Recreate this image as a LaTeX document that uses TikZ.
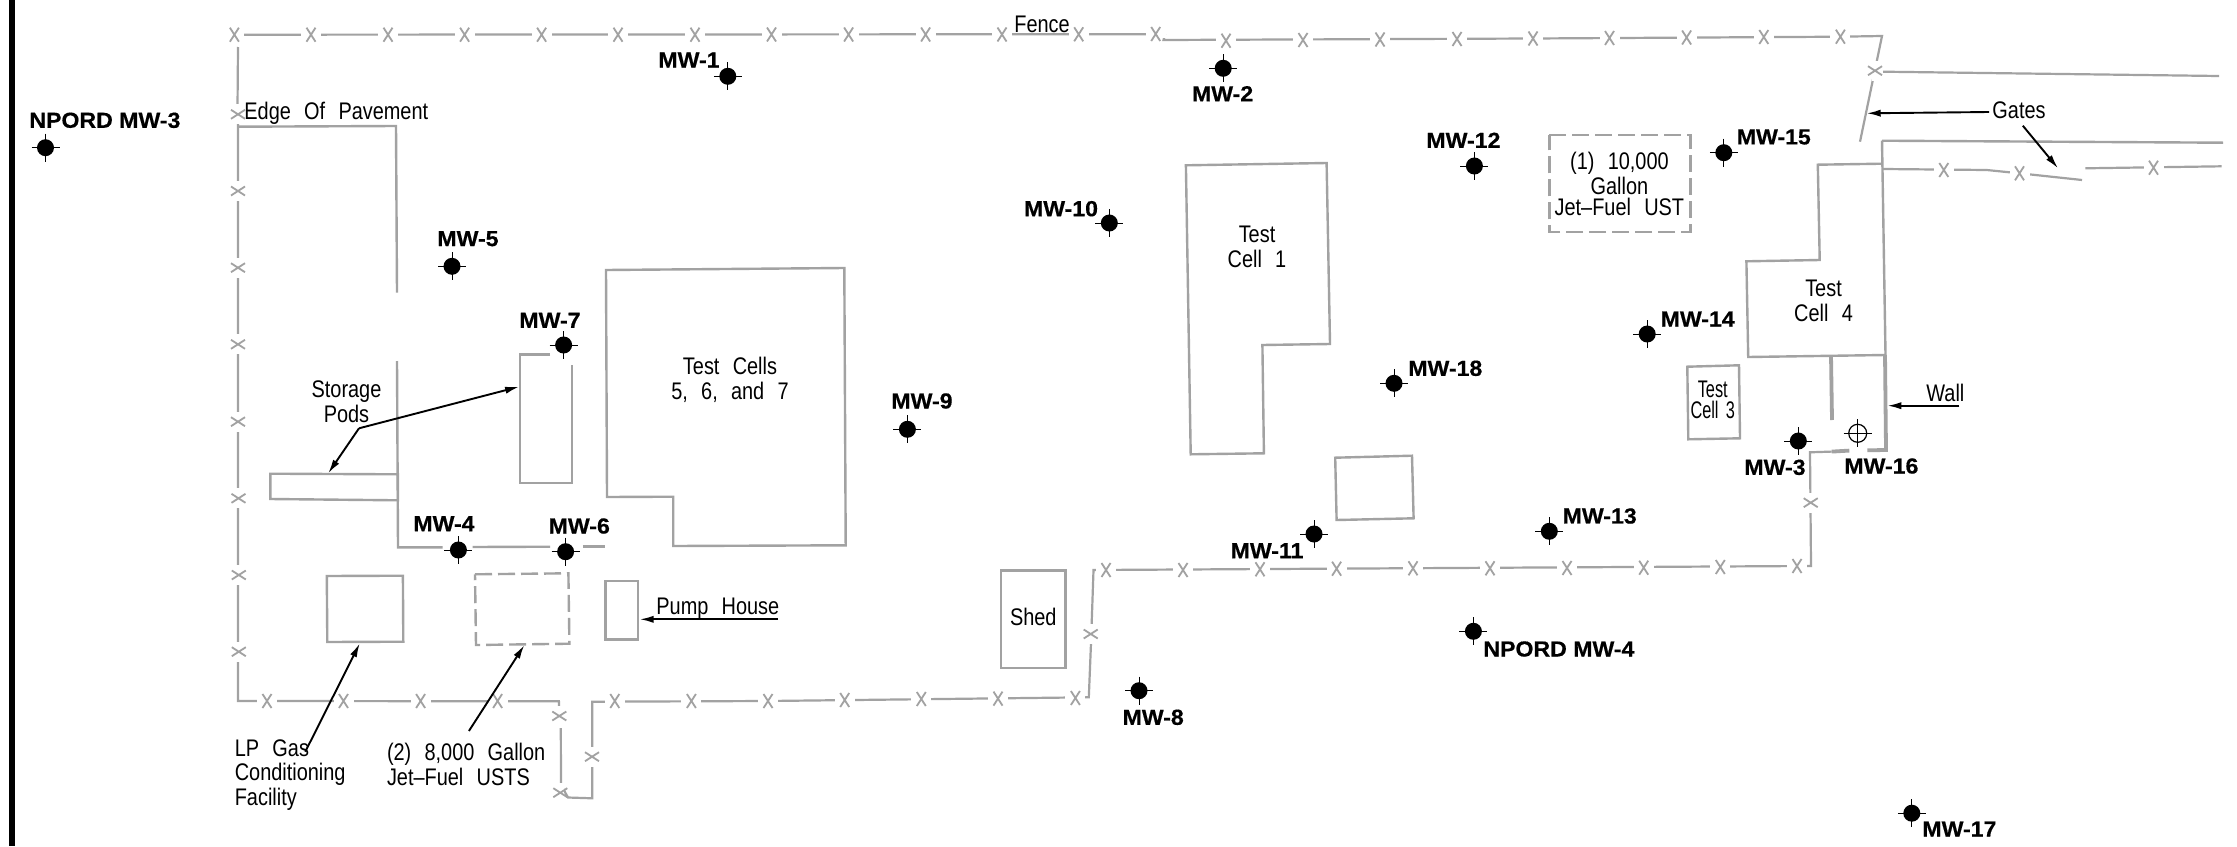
\documentclass[tikz,border=0pt]{standalone}
\usepackage{fontspec}
\usetikzlibrary{arrows.meta}
\newfontfamily\thinfont[FakeStretch=0.83,WordSpace=2.4]{Liberation Sans}
\newfontfamily\narrowfont[FakeStretch=0.68,WordSpace=1.6]{Liberation Sans}
\newfontfamily\mwfont[FakeStretch=1.06,FakeBold=0.5]{Liberation Sans}
\definecolor{linegray}{HTML}{A2A2A2}
\tikzset{
  x=0.5pt,y=-0.5pt,
  outline/.style={draw=linegray,line width=1.2pt,line join=miter},
  fenceline/.style={draw=linegray,line width=1.1pt},
  dashedline/.style={draw=linegray,line width=1.2pt,dash pattern=on 8.5pt off 3pt},
  wall/.style={draw=linegray,line width=1.9pt},
  leader/.style={draw=black,line width=0.95pt,-{Latex[length=7pt,width=3.6pt]}},
  txt/.style={font=\thinfont\fontsize{12}{12.4}\selectfont,inner sep=0pt,align=center},
  txtl/.style={txt,align=left},
  mw/.style={font=\mwfont\bfseries\fontsize{10.9}{12}\selectfont,inner sep=0pt,anchor=west},
  welldot/.style={circle,fill=black,minimum size=8.5pt,inner sep=0pt},
  wellring/.style={circle,draw=black,line width=0.6pt,minimum size=9pt,inner sep=0pt},
  crosshair/.style={draw=black,line width=0.5pt},
  fencex/.pic={
    \fill[white] (-10,-3.5) rectangle (10,3.5);
    \draw[draw=linegray,line width=0.9pt] (-4.5,-7) -- (4.5,7) (-4.5,7) -- (4.5,-7);
  }
}
\newcommand{\well}[3]{%
  \node[welldot] (#1) at (#2,#3) {};
  \draw[crosshair] (#2-14,#3) -- (#2+14,#3) (#2,#3-14) -- (#2,#3+14);
}
\begin{document}
\begin{tikzpicture}
\useasboundingbox (0,0) rectangle (2237,846);
\fill[white] (0,0) rectangle (2237,846);
\fill[black] (9,0) rectangle (14.5,846);

% fence
\draw[fenceline,line join=miter]
  (234,34.7) -- (1155,34.2);
\draw[fenceline] (238,47) -- (237.5,108) (238,120) -- (238,701) -- (558.9,701.3) -- (559.8,725)
  (560.8,728) -- (561,785) -- (568,797.5) -- (592.3,798.3) -- (592.3,701.7) -- (768,701) -- (1088.8,697.3) -- (1091,643) -- (1093.5,570) -- (1806,566) -- (1811,566) -- (1810,452.3) -- (1831.7,451.6);
\draw[fenceline] (1165,34) -- (1163.5,40) -- (1533,38.5) -- (1840,36.7) -- (1882,36) -- (1860,141.7);
\draw[fenceline] (1883,71.7) -- (2219,76);
\draw[fenceline] (1883.2,169) -- (1986.6,170) -- (2019.5,173.3) -- (2082,180);
\draw[fenceline] (2085.3,168.3) -- (2221.7,166.3);
\foreach \px/\py in {
  234.4/34.7,311/34.7,388/34.7,464.6/34.7,541.6/34.7,618/34.7,695/34.7,771.5/34.5,848.6/34.5,925.6/34.5,1002/34.5,1078.7/34.3,1155.7/34,
  1226/40.7,1303/40,1380/39.5,1457/39,1533/38.5,1609.5/38,1686.6/37.5,1763.8/37,1840.4/36.7,
  1943.8/170,2019.5/173.3,2153.5/167.7,
  1797/566,1720.3/567,1643.7/567.7,1567/568,1490/568.3,1413/568.3,1336.6/568.7,1260/569.3,1183/570,1106/570,
  1075.4/698,998/698.6,921.3/699,844.7/700,768/701,691.4/701,614.8/701,
  497.6/701,420.6/701,343.5/701,267/701}
  {\pic at (\px,\py) {fencex};}
\foreach \px/\py in {
  238/114.3,238/191,238/267.7,238/344.3,238/421.7,238.5/498.3,238.8/575,238.8/651.7,
  559.3/716,560.3/792.7,592/756.7,1090.7/634,1810.7/502.7,1875/70.7}
  {\pic[rotate=90] at (\px,\py) {fencex};}

% pavement
\draw[outline] (237.8,126.7) -- (396,126) -- (397,292.7);
\draw[outline] (397,361) -- (398,547.3) -- (442.6,547.3);
\draw[outline] (472.7,547) -- (550,546.7);
\draw[outline] (582.8,546.3) -- (605,546.3);
\draw[outline] (1882,140.7) -- (2223,142.7);

% buildings
\draw[outline] (270.3,473.7) -- (398,474.3) -- (398,500.3) -- (270.3,499) -- cycle;
\draw[outline] (550,354.3) -- (520,354.3) -- (520,482.7) -- (571.8,482.7) -- (571.8,365);
\draw[outline] (606,270) -- (844.3,268) -- (845.7,545.3) -- (673.2,546) -- (673.2,496.7) -- (607,497) -- cycle;
\draw[outline] (1185.9,165.3) -- (1326.6,163) -- (1330,344) -- (1262.4,345) -- (1263.9,453.3) -- (1190.7,454.3) -- cycle;
\draw[outline] (1335.2,457.7) -- (1412,455.7) -- (1413.6,518.3) -- (1336.6,520) -- cycle;
\draw[outline] (1001.2,570.3) rectangle (1065.3,667.7);
\draw[outline] (326.8,576) -- (402.9,575.7) -- (403.3,641.7) -- (327.3,642) -- cycle;
\draw[dashedline] (475,574.3) -- (568.4,573.3) -- (569.4,643.7) -- (476,645) -- cycle;
\draw[outline] (605.3,581) rectangle (637.8,639.3);
\draw[dashedline] (1549.4,135) -- (1690.4,135) -- (1690.4,231.7) -- (1549.4,231.7) -- cycle;
\draw[outline] (1882.2,163.7) -- (1817.8,164.7) -- (1819.7,260) -- (1746.4,261.3) -- (1748.2,357) -- (1885.5,355) -- (1882,140.7);
\draw[outline] (1687.3,366.7) -- (1739,365.3) -- (1740,438.3) -- (1688.3,439.3) -- cycle;
\draw[wall] (1831,356) -- (1832,420);
\draw[wall] (1885,355) -- (1886,450) -- (1867.3,450.3);
\draw[wall] (1849.3,450.6) -- (1831.7,451.6);

% wells
\well{mw1}{727.8}{76.3}
\well{nmw3}{45.5}{147.7}
\well{mw5}{452}{266.3}
\well{mw7}{563.6}{345}
\well{mw4}{458.4}{550}
\well{mw6}{565.6}{551.7}
\well{mw2}{1223.2}{68.3}
\well{mw10}{1109.3}{223}
\well{mw12}{1474.4}{166}
\well{mw18}{1394}{383.3}
\well{mw9}{907.4}{429.3}
\well{mw11}{1314}{534}
\well{mw8}{1139}{690.7}
\well{nmw4}{1473.4}{631.3}
\well{mw15}{1723.8}{152.7}
\well{mw14}{1647.2}{334}
\well{mw3}{1798.3}{441}
\well{mw13}{1549.3}{531.3}
\well{mw17}{1911.8}{813.2}
\node[wellring] (mw16) at (1857.7,433.3) {};
\draw[crosshair,line width=0.7pt] (1843.7,433.3) -- (1871.7,433.3) (1857.7,419.3) -- (1857.7,447.3);

% well labels
\node[mw] (lmw1) at (658,60) {MW-1};
\node[mw] (lnmw3) at (29,120.3) {NPORD MW-3};
\node[mw] (lmw5) at (437,238.7) {MW-5};
\node[mw] (lmw7) at (519,320.3) {MW-7};
\node[mw] (lmw4) at (413,523.7) {MW-4};
\node[mw] (lmw6) at (548.3,526) {MW-6};
\node[mw] (lmw2) at (1191.6,93.7) {MW-2};
\node[mw] (lmw10) at (1023.6,208.7) {MW-10};
\node[mw] (lmw12) at (1426,140.3) {MW-12};
\node[mw] (lmw18) at (1407.9,368.3) {MW-18};
\node[mw] (lmw9) at (891,401) {MW-9};
\node[mw] (lmw11) at (1230.3,550.7) {MW-11};
\node[mw] (lmw8) at (1122.2,717.3) {MW-8};
\node[mw] (lnmw4) at (1483,649) {NPORD MW-4};
\node[mw] (lmw15) at (1736.4,137) {MW-15};
\node[mw] (lmw14) at (1660.3,319) {MW-14};
\node[mw] (lmw3) at (1744,467.3) {MW-3};
\node[mw] (lmw16) at (1844,466) {MW-16};
\node[mw] (lmw13) at (1562.3,516) {MW-13};
\node[mw] (lmw17) at (1922,829) {MW-17};

% texts
\node[txt] (fence) at (1042,24) {Fence};
\node[txt,anchor=west] (edge) at (244,113.7) {Edge Of Pavement};
\node[txt] (pods) at (346.5,402) {Storage\\Pods};
\node[txt] (cells) at (730,379.5) {Test Cells\\5, 6, and 7};
\node[txt] (cell1) at (1257,247) {Test\\Cell 1};
\node[txt] (shed) at (1033.3,617.3) {Shed};
\node[txt,anchor=west] (pump) at (656,608.3) {Pump House};
\node[txtl,anchor=west] (lp) at (234.4,775) {LP Gas\\Conditioning\\Facility};
\node[txtl,anchor=west] (usts) at (386.6,764.5) {(2) 8,000 Gallon\\Jet–Fuel USTS};
\node[txt,font=\thinfont\fontsize{12}{10.85}\selectfont] (ust) at (1619.4,184.3) {(1) 10,000\\Gallon\\Jet–Fuel UST};
\node[txt] (cell4) at (1823.5,301) {Test\\Cell 4};
\node[txt,font=\narrowfont\fontsize{12}{10.4}\selectfont] (cell3) at (1712.7,400) {Test\\Cell 3};
\node[txt] (gates) at (2019,110.3) {Gates};
\node[txt,anchor=west] (wall) at (1926,393.3) {Wall};

% leaders
\coordinate (podsj) at (359,428.3);
\coordinate (podsa) at (519.1,386.7);
\coordinate (podsb) at (328.2,473.3);
\draw[leader] (podsj) -- (podsa);
\draw[leader] (podsj) -- (podsb);
\coordinate (lps) at (305.3,751.7);
\coordinate (lpe) at (359.8,643.3);
\draw[leader] (lps) -- (lpe);
\coordinate (usts1) at (468.9,731);
\coordinate (usts2) at (524.4,645);
\draw[leader] (usts1) -- (usts2);
\coordinate (pumps) at (778,619.3);
\coordinate (pumpe) at (639.7,619.3);
\draw[leader] (pumps) -- (pumpe);
\coordinate (walls) at (1959.3,405.7);
\coordinate (walle) at (1887.3,405.7);
\draw[leader] (walls) -- (walle);
\coordinate (gatesa) at (1989,112);
\coordinate (gatesb) at (1866.7,113.3);
\draw[leader] (gatesa) -- (gatesb);
\coordinate (gatesc) at (2022.8,125.7);
\coordinate (gatesd) at (2058,168.3);
\draw[leader] (gatesc) -- (gatesd);
\end{tikzpicture}
\end{document}
